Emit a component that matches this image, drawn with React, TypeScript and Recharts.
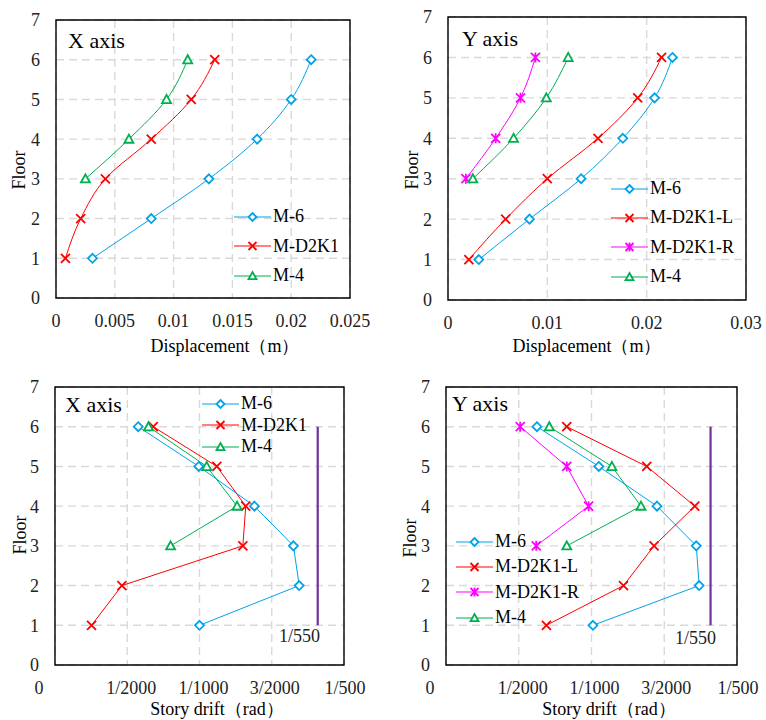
import React from 'react';
import {
  LineChart,
  Line,
  XAxis,
  YAxis,
  CartesianGrid,
  ReferenceArea,
  ReferenceLine,
  Legend,
} from 'recharts';

// ─── Data ─────────────────────────────────────────────────────────────────────

const floors = [1, 2, 3, 4, 5, 6];
const upperFloors = [3, 4, 5, 6];
const floorTicks = [0, 1, 2, 3, 4, 5, 6, 7];

// Floor displacement, X direction (m)
const dispX_M6 = [0.0031, 0.0081, 0.013, 0.0171, 0.02, 0.0217];
const dispX_D2K1 = [0.0008, 0.0021, 0.0042, 0.0081, 0.0115, 0.0135];
const dispX_M4 = [0.0025, 0.0062, 0.0094, 0.0112];

// Floor displacement, Y direction (m)
const dispY_M6 = [0.0031, 0.0082, 0.0134, 0.0176, 0.0208, 0.0226];
const dispY_D2K1L = [0.0021, 0.0058, 0.01, 0.0151, 0.0191, 0.0215];
const dispY_D2K1R = [0.0018, 0.0048, 0.0073, 0.0088];
const dispY_M4 = [0.0025, 0.0066, 0.0099, 0.0121];

// Story drift, X direction (rad)
const driftX_M6 = [0.001, 0.00169, 0.00165, 0.00138, 0.000995, 0.000576];
const driftX_D2K1 = [0.000253, 0.000463, 0.0013, 0.00132, 0.00112, 0.00068];
const driftX_M4 = [0.0008, 0.00126, 0.00105, 0.000647];

// Story drift, Y direction (rad)
const driftY_M6 = [0.00101, 0.00174, 0.00172, 0.00145, 0.00105, 0.000625];
const driftY_D2K1L = [0.00069, 0.00122, 0.00143, 0.00171, 0.00138, 0.00083];
const driftY_D2K1R = [0.00062, 0.00098, 0.00083, 0.00051];
const driftY_M4 = [0.00083, 0.00134, 0.00114, 0.00071];

const driftLimit = 1 / 550;

const dispXTicks = [0, 0.005, 0.01, 0.015, 0.02, 0.025];
const dispXLabels = ['0', '0.005', '0.01', '0.015', '0.02', '0.025'];
const dispYTicks = [0, 0.01, 0.02, 0.03];
const dispYLabels = ['0', '0.01', '0.02', '0.03'];
const driftTicks = [0, 0.0005, 0.001, 0.0015, 0.002];
const driftLabels = ['0', '1/2000', '1/1000', '3/2000', '1/500'];

// ─── Styles ───────────────────────────────────────────────────────────────────

const FONT = '"Liberation Serif", "Times New Roman", serif';
const BLUE = '#00A3EA';
const RED = '#FF0000';
const GREEN = '#00B050';
const MAGENTA = '#FF00FF';
const PURPLE = '#7030A0';
const GRID = '#D9D9D9';
const TEXT = '#222';

type Shape = 'diamond' | 'cross' | 'star' | 'triangle';

type Series = {
  name: string;
  color: string;
  shape: Shape;
  floors: number[];
  values: number[];
};

// ─── Markers ──────────────────────────────────────────────────────────────────

function Marker({ shape, cx, cy, color, r = 4.5 }: { shape: Shape; cx: number; cy: number; color: string; r?: number }) {
  if (cx == null || cy == null) return null;
  switch (shape) {
    case 'diamond':
      return (
        <polygon
          points={`${cx},${cy - r} ${cx + r},${cy} ${cx},${cy + r} ${cx - r},${cy}`}
          fill="#fff"
          stroke={color}
          strokeWidth={1.8}
        />
      );
    case 'cross':
      return (
        <path
          d={`M${cx - r},${cy - r}L${cx + r},${cy + r}M${cx - r},${cy + r}L${cx + r},${cy - r}`}
          stroke={color}
          strokeWidth={1.8}
        />
      );
    case 'star':
      return (
        <path
          d={`M${cx - r},${cy - r}L${cx + r},${cy + r}M${cx - r},${cy + r}L${cx + r},${cy - r}M${cx},${cy - r - 0.5}L${cx},${cy + r + 0.5}`}
          stroke={color}
          strokeWidth={1.8}
        />
      );
    case 'triangle':
      return (
        <polygon
          points={`${cx},${cy - r} ${cx + r},${cy + r * 0.8} ${cx - r},${cy + r * 0.8}`}
          fill="#fff"
          stroke={color}
          strokeWidth={1.8}
        />
      );
  }
  return null;
}

// ─── Legend ───────────────────────────────────────────────────────────────────

function LegendBox({ series, rowH }: { series: Series[]; rowH: number }) {
  return (
    <div style={{ fontFamily: FONT, fontSize: 18, color: '#000' }}>
      {series.map((s) => (
        <div key={s.name} style={{ display: 'flex', alignItems: 'center', height: rowH, whiteSpace: 'nowrap' }}>
          <svg width={37} height={14} style={{ display: 'block' }}>
            <line x1={0} y1={7} x2={37} y2={7} stroke={s.color} strokeWidth={1.2} />
            <Marker shape={s.shape} cx={18.5} cy={7} color={s.color} r={4} />
          </svg>
          <span style={{ marginLeft: 2, lineHeight: `${rowH}px` }}>{s.name}</span>
        </div>
      ))}
    </div>
  );
}

// ─── Panel ────────────────────────────────────────────────────────────────────

type PanelProps = {
  left: number;
  top: number;
  margin: { top: number; right: number; bottom: number; left: number };
  series: Series[];
  xMax: number;
  xTicks: number[];
  xLabels: string[];
  xShifts?: number[];
  smooth: boolean;
  title: string;
  titlePos: [number, number];
  xTitle: string;
  xTitlePos: [number, number];
  floorPos: [number, number];
  legendPos: [number, number];
  legendRow: number;
  limitLabelPos?: [number, number];
};

function Panel(p: PanelProps) {
  const W = 383;
  const H = 360;
  return (
    <div style={{ position: 'absolute', left: p.left, top: p.top, width: W, height: H }}>
      <LineChart width={W} height={H} layout="vertical" margin={p.margin}>
        <CartesianGrid stroke={GRID} strokeWidth={1.4} strokeDasharray="8 5" />
        <XAxis
          type="number"
          domain={[0, p.xMax]}
          ticks={p.xTicks}
          interval={0}
          allowDataOverflow
          axisLine={false}
          tickLine={false}
          tickMargin={10}
          height={30}
          tick={(t: any) => (
            <text
              x={t.x + (p.xShifts ? p.xShifts[t.index] : 0)}
              y={t.y}
              dy="0.71em"
              textAnchor="middle"
              fontSize={18}
              fontFamily={FONT}
              fill={TEXT}
            >
              {p.xLabels[t.index]}
            </text>
          )}
        />
        <YAxis
          type="number"
          dataKey="floor"
          domain={[0, 7]}
          ticks={floorTicks}
          interval={0}
          reversed
          allowDataOverflow
          axisLine={false}
          tickLine={false}
          tickMargin={10}
          width={30}
          tick={{ fontSize: 18, fontFamily: FONT, fill: TEXT }}
        />
        <ReferenceArea x1={0} x2={p.xMax} y1={0} y2={7} fill="none" stroke="#000" strokeWidth={1.4} />
        {p.limitLabelPos && (
          <ReferenceLine
            segment={[
              { x: driftLimit, y: 1 },
              { x: driftLimit, y: 6 },
            ]}
            stroke={PURPLE}
            strokeWidth={2.2}
          />
        )}
        {p.series.map((s) => (
          <Line
            key={s.name}
            data={s.floors.map((f, i) => ({ floor: f, v: s.values[i] }))}
            dataKey="v"
            type={p.smooth ? 'monotone' : 'linear'}
            stroke={s.color}
            strokeWidth={1}
            isAnimationActive={false}
            dot={(d: any) => <Marker key={`${s.name}-${d.index}`} shape={s.shape} cx={d.cx} cy={d.cy} color={s.color} />}
            activeDot={false}
          />
        ))}
        <Legend
          layout="vertical"
          align="center"
          verticalAlign="middle"
          wrapperStyle={{ left: p.legendPos[0], top: p.legendPos[1], width: 'auto', height: 'auto' }}
          content={() => <LegendBox series={p.series} rowH={p.legendRow} />}
        />
        <text x={p.titlePos[0]} y={p.titlePos[1]} fontSize={22} fontFamily={FONT} fill="#000">
          {p.title}
        </text>
        <text x={p.xTitlePos[0]} y={p.xTitlePos[1]} textAnchor="middle" fontSize={18} fontFamily={FONT} fill="#000">
          {p.xTitle}
        </text>
        <text
          x={p.floorPos[0]}
          y={p.floorPos[1]}
          textAnchor="middle"
          fontSize={18}
          fontFamily={FONT}
          fill="#000"
          transform={`rotate(-90 ${p.floorPos[0]} ${p.floorPos[1]})`}
        >
          Floor
        </text>
        {p.limitLabelPos && (
          <text x={p.limitLabelPos[0]} y={p.limitLabelPos[1]} textAnchor="end" fontSize={18} fontFamily={FONT} fill={TEXT}>
            1/550
          </text>
        )}
      </LineChart>
    </div>
  );
}

// ─── Series sets ──────────────────────────────────────────────────────────────

const dispXSeries: Series[] = [
  { name: 'M-6', color: BLUE, shape: 'diamond', floors, values: dispX_M6 },
  { name: 'M-D2K1', color: RED, shape: 'cross', floors, values: dispX_D2K1 },
  { name: 'M-4', color: GREEN, shape: 'triangle', floors: upperFloors, values: dispX_M4 },
];

const dispYSeries: Series[] = [
  { name: 'M-6', color: BLUE, shape: 'diamond', floors, values: dispY_M6 },
  { name: 'M-D2K1-L', color: RED, shape: 'cross', floors, values: dispY_D2K1L },
  { name: 'M-D2K1-R', color: MAGENTA, shape: 'star', floors: upperFloors, values: dispY_D2K1R },
  { name: 'M-4', color: GREEN, shape: 'triangle', floors: upperFloors, values: dispY_M4 },
];

const driftXSeries: Series[] = [
  { name: 'M-6', color: BLUE, shape: 'diamond', floors, values: driftX_M6 },
  { name: 'M-D2K1', color: RED, shape: 'cross', floors, values: driftX_D2K1 },
  { name: 'M-4', color: GREEN, shape: 'triangle', floors: upperFloors, values: driftX_M4 },
];

const driftYSeries: Series[] = [
  { name: 'M-6', color: BLUE, shape: 'diamond', floors, values: driftY_M6 },
  { name: 'M-D2K1-L', color: RED, shape: 'cross', floors, values: driftY_D2K1L },
  { name: 'M-D2K1-R', color: MAGENTA, shape: 'star', floors: upperFloors, values: driftY_D2K1R },
  { name: 'M-4', color: GREEN, shape: 'triangle', floors: upperFloors, values: driftY_M4 },
];

// ─── App ──────────────────────────────────────────────────────────────────────

export default function App() {
  return (
    <div style={{ position: 'absolute', left: 0, top: 0, width: 766, height: 720, background: '#fff', overflow: 'hidden' }}>
      <Panel
        left={0}
        top={0}
        margin={{ top: 20, right: 33, bottom: 32, left: 26 }}
        series={dispXSeries}
        xMax={0.025}
        xTicks={dispXTicks}
        xLabels={dispXLabels}
        smooth
        title="X axis"
        titlePos={[68, 48]}
        xTitle="Displacement（m）"
        xTitlePos={[225, 352]}
        floorPos={[25, 170]}
        legendPos={[234, 202]}
        legendRow={29.5}
      />
      <Panel
        left={383}
        top={0}
        margin={{ top: 17, right: 20, bottom: 30, left: 35 }}
        series={dispYSeries}
        xMax={0.03}
        xTicks={dispYTicks}
        xLabels={dispYLabels}
        smooth
        title="Y axis"
        titlePos={[79, 46]}
        xTitle="Displacement（m）"
        xTitlePos={[204, 352]}
        floorPos={[35, 170]}
        legendPos={[228, 174]}
        legendRow={29.3}
      />
      <Panel
        left={0}
        top={360}
        margin={{ top: 27, right: 39, bottom: 25, left: 25 }}
        series={driftXSeries}
        xMax={0.002}
        xTicks={driftTicks}
        xLabels={driftLabels}
        xShifts={[-16, 4, 4, 3, 1]}
        smooth={false}
        title="X axis"
        titlePos={[65, 52]}
        xTitle="Story drift（rad）"
        xTitlePos={[217, 355]}
        floorPos={[26, 175]}
        legendPos={[202, 33]}
        legendRow={21.5}
        limitLabelPos={[320, 282]}
      />
      <Panel
        left={383}
        top={360}
        margin={{ top: 27, right: 29, bottom: 25, left: 33 }}
        series={driftYSeries}
        xMax={0.002}
        xTicks={driftTicks}
        xLabels={driftLabels}
        xShifts={[-16, 4, 3, 2, 1]}
        smooth={false}
        title="Y axis"
        titlePos={[69, 51]}
        xTitle="Story drift（rad）"
        xTitlePos={[226, 355]}
        floorPos={[33, 178]}
        legendPos={[73, 169]}
        legendRow={25.3}
        limitLabelPos={[333, 284]}
      />
    </div>
  );
}
